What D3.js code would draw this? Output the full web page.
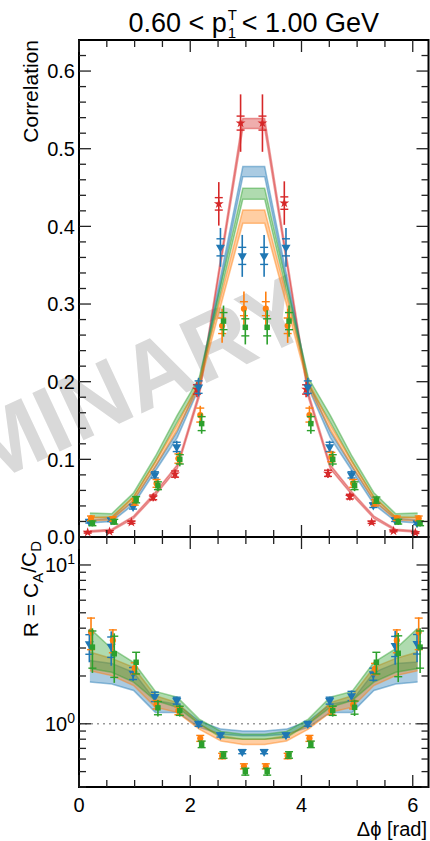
<!DOCTYPE html>
<html>
<head>
<meta charset="utf-8">
<script src="https://cdn.jsdelivr.net/npm/d3@7"></script>
<style>
body{margin:0;background:#fff}
text{font-family:"Liberation Sans",Arial,sans-serif;fill:#000}
</style>
</head>
<body>
<div class="container"></div>
<script>
// bin centres in delta phi
var binCenters = [0.196, 0.589, 0.982, 1.374, 1.767, 2.160, 2.553, 2.945, 3.338, 3.731, 4.123, 4.516, 4.909, 5.301, 5.694, 6.087];

// upper panel: measured correlation
var redVals    = [0.006, 0.007, 0.019, 0.051, 0.081, 0.190, 0.429, 0.533, 0.533, 0.430, 0.190, 0.082, 0.052, 0.019, 0.0077, 0.0055];
var redTot     = [0.002, 0.002, 0.003, 0.005, 0.006, 0.010, 0.028, 0.037, 0.037, 0.028, 0.010, 0.006, 0.005, 0.003, 0.002, 0.002];
var redStat    = [0.001, 0.001, 0.0015, 0.003, 0.004, 0.006, 0.008, 0.009, 0.009, 0.008, 0.006, 0.004, 0.003, 0.0015, 0.001, 0.001];
var blueVals   = [0.020, 0.022, 0.039, 0.080, 0.116, 0.193, 0.373, 0.362, 0.362, 0.373, 0.193, 0.116, 0.080, 0.041, 0.022, 0.018];
var blueTot    = [0.003, 0.003, 0.004, 0.006, 0.008, 0.012, 0.025, 0.027, 0.027, 0.025, 0.012, 0.008, 0.006, 0.004, 0.003, 0.003];
var blueStat   = [0.002, 0.002, 0.003, 0.004, 0.006, 0.008, 0.011, 0.011, 0.011, 0.011, 0.008, 0.006, 0.004, 0.003, 0.002, 0.002];
var orangeVals = [0.024, 0.023, 0.045, 0.069, 0.101, 0.157, 0.272, 0.294, 0.294, 0.272, 0.157, 0.103, 0.069, 0.044, 0.024, 0.024];
var orangeTot  = [0.004, 0.004, 0.005, 0.006, 0.008, 0.012, 0.022, 0.022, 0.022, 0.022, 0.012, 0.008, 0.006, 0.005, 0.004, 0.004];
var orangeStat = [0.003, 0.003, 0.004, 0.005, 0.006, 0.009, 0.010, 0.009, 0.009, 0.010, 0.009, 0.006, 0.005, 0.004, 0.003, 0.003];
var greenVals  = [0.0176, 0.0197, 0.048, 0.066, 0.100, 0.146, 0.278, 0.270, 0.270, 0.278, 0.146, 0.100, 0.066, 0.0475, 0.0197, 0.0176];
var greenTot   = [0.004, 0.004, 0.005, 0.007, 0.009, 0.013, 0.020, 0.022, 0.022, 0.020, 0.013, 0.009, 0.007, 0.005, 0.004, 0.004];
var greenStat  = [0.003, 0.003, 0.004, 0.005, 0.006, 0.009, 0.011, 0.011, 0.011, 0.011, 0.009, 0.006, 0.005, 0.004, 0.003, 0.003];

// upper panel: model bands
var redLo    = [0.0060, 0.0080, 0.024, 0.054, 0.088, 0.180, 0.353, 0.526, 0.526, 0.353, 0.180, 0.088, 0.054, 0.024, 0.0080, 0.0060];
var redHi    = [0.0080, 0.0100, 0.027, 0.058, 0.093, 0.186, 0.362, 0.539, 0.539, 0.362, 0.186, 0.093, 0.058, 0.027, 0.0100, 0.0080];
var blueLo   = [0.018, 0.020, 0.042, 0.085, 0.128, 0.192, 0.328, 0.464, 0.464, 0.328, 0.192, 0.128, 0.085, 0.042, 0.020, 0.018];
var blueHi   = [0.022, 0.024, 0.047, 0.091, 0.136, 0.199, 0.338, 0.477, 0.477, 0.338, 0.199, 0.136, 0.091, 0.047, 0.024, 0.022];
var greenLo  = [0.025, 0.025, 0.051, 0.097, 0.148, 0.196, 0.316, 0.435, 0.435, 0.316, 0.196, 0.148, 0.097, 0.051, 0.025, 0.025];
var greenHi  = [0.031, 0.030, 0.057, 0.104, 0.157, 0.205, 0.327, 0.449, 0.449, 0.327, 0.205, 0.157, 0.104, 0.057, 0.030, 0.031];
var orangeLo = [0.021, 0.022, 0.047, 0.091, 0.138, 0.193, 0.299, 0.404, 0.404, 0.299, 0.193, 0.138, 0.091, 0.047, 0.022, 0.021];
var orangeHi = [0.025, 0.026, 0.052, 0.097, 0.145, 0.200, 0.311, 0.421, 0.421, 0.311, 0.200, 0.145, 0.097, 0.052, 0.026, 0.025];

// lower panel: ratio R = CA/CD
var blueR       = [3.19, 3.07, 2.08, 1.48, 1.40, 1.00, 0.85, 0.668, 0.668, 0.85, 1.00, 1.40, 1.50, 2.06, 3.10, 3.20];
var blueRTot    = [0.75, 0.75, 0.22, 0.12, 0.08, 0.04, 0.03, 0.02, 0.02, 0.03, 0.04, 0.08, 0.12, 0.22, 0.75, 0.75];
var blueRStat   = [0.45, 0.45, 0.18, 0.10, 0.07, 0.035, 0.025, 0.02, 0.02, 0.025, 0.035, 0.07, 0.10, 0.18, 0.45, 0.45];
var orangeR     = [3.78, 3.35, 2.24, 1.32, 1.21, 0.81, 0.627, 0.54, 0.54, 0.627, 0.81, 1.21, 1.32, 2.22, 3.35, 3.78];
var orangeRTot  = [0.90, 0.60, 0.20, 0.10, 0.08, 0.04, 0.03, 0.025, 0.025, 0.03, 0.04, 0.08, 0.10, 0.20, 0.60, 0.90];
var orangeRStat = [0.85, 0.55, 0.18, 0.08, 0.07, 0.035, 0.025, 0.02, 0.02, 0.025, 0.035, 0.07, 0.08, 0.18, 0.55, 0.85];
var greenR      = [3.04, 2.76, 2.44, 1.26, 1.21, 0.743, 0.637, 0.50, 0.50, 0.637, 0.743, 1.21, 1.27, 2.44, 2.78, 3.04];
var greenRTot   = [0.95, 0.95, 0.38, 0.15, 0.10, 0.04, 0.035, 0.03, 0.03, 0.035, 0.04, 0.10, 0.15, 0.38, 0.95, 0.95];
var greenRStat  = [0.80, 0.80, 0.38, 0.12, 0.08, 0.035, 0.03, 0.025, 0.025, 0.03, 0.035, 0.08, 0.12, 0.38, 0.80, 0.80];

var blueRLo   = [1.83, 1.78, 1.62, 1.18, 1.18, 0.95, 0.86, 0.84, 0.84, 0.86, 0.95, 1.18, 1.18, 1.62, 1.78, 1.83];
var blueRHi   = [2.50, 2.40, 2.11, 1.40, 1.33, 1.04, 0.926, 0.90, 0.90, 0.926, 1.04, 1.33, 1.40, 2.11, 2.40, 2.45];
var orangeRLo = [2.16, 2.01, 1.74, 1.27, 1.18, 0.925, 0.78, 0.74, 0.74, 0.78, 0.925, 1.18, 1.27, 1.74, 2.01, 2.16];
var orangeRHi = [2.83, 2.58, 2.27, 1.50, 1.36, 1.00, 0.84, 0.80, 0.80, 0.84, 1.00, 1.36, 1.50, 2.27, 2.58, 2.83];
var greenRLo  = [2.23, 2.11, 1.83, 1.40, 1.27, 1.00, 0.819, 0.80, 0.80, 0.819, 1.00, 1.27, 1.40, 1.83, 2.11, 2.23];
var greenRHi  = [3.99, 2.97, 2.44, 1.60, 1.47, 1.07, 0.894, 0.86, 0.86, 0.894, 1.07, 1.47, 1.60, 2.44, 2.97, 3.99];

// ticks
var xMajor = [0, 2, 4, 6];
var xMinor = [0.5, 1, 1.5, 2.5, 3, 3.5, 4.5, 5, 5.5];
var yTopMajor = [0, 0.1, 0.2, 0.3, 0.4, 0.5, 0.6];
var yTopMinor = [0.02, 0.04, 0.06, 0.08, 0.12, 0.14, 0.16, 0.18, 0.22, 0.24, 0.26, 0.28, 0.32, 0.34, 0.36, 0.38, 0.42, 0.44, 0.46, 0.48, 0.52, 0.54, 0.56, 0.58, 0.62];
var yBotMajor = [1, 10];
var yBotMinor = [0.4, 0.5, 0.6, 0.7, 0.8, 0.9, 2, 3, 4, 5, 6, 7, 8, 9];

var RED = '#d62728', BLUE = '#1f77b4', ORANGE = '#ff7f0e', GREEN = '#2ca02c';

var svg = d3.select('.container').append('svg').attr('width', 430).attr('height', 841);

const LEFT = 79, RIGHT = 428.5, TOP = 40, MID = 537, BOTTOM = 787;
const MAJOR = 12, MINOR = 7;

var x = d3.scaleLinear().domain([0, 2 * Math.PI]).range([LEFT, RIGHT]);
var yTop = d3.scaleLinear().domain([0, 0.64]).range([MID, TOP]);
var yBot = d3.scaleLog().domain([0.4, 15]).range([BOTTOM, MID]);

// watermark
svg.append('text')
  .text('PRELIMINARY')
  .attr('transform', 'translate(316,332) rotate(-25)')
  .attr('text-anchor', 'end')
  .style('font-size', '94px')
  .style('font-weight', 'bold')
  .style('fill', '#d9d9d9');

var drawBand = function(g, yScale, lo, hi, color) {
  var area = d3.area()
    .x(function(d, i) { return x(binCenters[i]); })
    .y0(function(d, i) { return yScale(lo[i]); })
    .y1(function(d, i) { return yScale(hi[i]); });
  g.append('path').datum(lo).attr('d', area)
    .attr('fill', color).attr('fill-opacity', 0.38);
  var line = d3.line()
    .x(function(d, i) { return x(binCenters[i]); })
    .y(function(d) { return yScale(d); });
  [lo, hi].forEach(function(arr) {
    g.append('path').datum(arr).attr('d', line)
      .attr('fill', 'none').attr('stroke', color)
      .attr('stroke-opacity', 0.45).attr('stroke-width', 1.5);
  });
};

var drawPoints = function(g, yScale, vals, tot, stat, color, sym, size, rot, dx) {
  var floor = yScale.domain()[0];
  vals.forEach(function(v, i) {
    var px = x(binCenters[i] + dx);
    g.append('line')
      .attr('x1', px).attr('x2', px)
      .attr('y1', yScale(Math.max(v - tot[i], floor))).attr('y2', yScale(v + tot[i]))
      .attr('stroke', color).attr('stroke-width', 1.6);
    [v - stat[i], v + stat[i]].forEach(function(c) {
      g.append('line')
        .attr('x1', px - 4).attr('x2', px + 4)
        .attr('y1', yScale(Math.max(c, floor))).attr('y2', yScale(Math.max(c, floor)))
        .attr('stroke', color).attr('stroke-width', 1.4);
    });
    g.append('path')
      .attr('d', d3.symbol().type(sym).size(size)())
      .attr('transform', 'translate(' + px + ',' + yScale(v) + ') rotate(' + rot + ')')
      .attr('fill', color);
  });
};

// upper panel
var topG = svg.append('g');
drawBand(topG, yTop, redLo, redHi, RED);
drawBand(topG, yTop, blueLo, blueHi, BLUE);
drawBand(topG, yTop, greenLo, greenHi, GREEN);
drawBand(topG, yTop, orangeLo, orangeHi, ORANGE);
drawPoints(topG, yTop, redVals, redTot, redStat, RED, d3.symbolStar, 30, 0, -0.04);
drawPoints(topG, yTop, blueVals, blueTot, blueStat, BLUE, d3.symbolTriangle, 36, 180, -0.01);
drawPoints(topG, yTop, orangeVals, orangeTot, orangeStat, ORANGE, d3.symbolCircle, 30, 0, 0.02);
drawPoints(topG, yTop, greenVals, greenTot, greenStat, GREEN, d3.symbolSquare, 30, 0, 0.045);

// lower panel
var botG = svg.append('g');
botG.append('line')
  .attr('x1', LEFT).attr('x2', RIGHT).attr('y1', yBot(1)).attr('y2', yBot(1))
  .attr('stroke', '#999').attr('stroke-width', 1.5).attr('stroke-dasharray', '2,4');
drawBand(botG, yBot, blueRLo, blueRHi, BLUE);
drawBand(botG, yBot, orangeRLo, orangeRHi, ORANGE);
drawBand(botG, yBot, greenRLo, greenRHi, GREEN);
drawPoints(botG, yBot, blueR, blueRTot, blueRStat, BLUE, d3.symbolTriangle, 36, 180, -0.01);
drawPoints(botG, yBot, orangeR, orangeRTot, orangeRStat, ORANGE, d3.symbolCircle, 30, 0, 0.02);
drawPoints(botG, yBot, greenR, greenRTot, greenRStat, GREEN, d3.symbolSquare, 30, 0, 0.045);

// frames
var axes = svg.append('g');
[[TOP, MID], [MID, BOTTOM]].forEach(function(p) {
  axes.append('rect')
    .attr('x', LEFT).attr('y', p[0]).attr('width', RIGHT - LEFT).attr('height', p[1] - p[0])
    .attr('fill', 'none').attr('stroke', '#000').attr('stroke-width', 2);
});

var tick = function(x1, y1, x2, y2) {
  axes.append('line')
    .attr('x1', x1).attr('y1', y1).attr('x2', x2).attr('y2', y2)
    .attr('stroke', '#222').attr('stroke-width', 1.3);
};

// x ticks on each horizontal edge, pointing inward
[[TOP, 1], [MID, -1], [MID, 1], [BOTTOM, -1]].forEach(function(e) {
  xMajor.forEach(function(t) { tick(x(t), e[0], x(t), e[0] + e[1] * MAJOR); });
  xMinor.forEach(function(t) { tick(x(t), e[0], x(t), e[0] + e[1] * MINOR); });
});
// y ticks
[[LEFT, 1], [RIGHT, -1]].forEach(function(e) {
  yTopMajor.forEach(function(t) { tick(e[0], yTop(t), e[0] + e[1] * MAJOR, yTop(t)); });
  yTopMinor.forEach(function(t) { tick(e[0], yTop(t), e[0] + e[1] * MINOR, yTop(t)); });
  yBotMajor.forEach(function(t) { tick(e[0], yBot(t), e[0] + e[1] * MAJOR, yBot(t)); });
  yBotMinor.forEach(function(t) { tick(e[0], yBot(t), e[0] + e[1] * MINOR, yBot(t)); });
});

// tick labels
yTopMajor.forEach(function(t) {
  axes.append('text').text(t.toFixed(1))
    .attr('x', 75).attr('y', yTop(t)).attr('dy', '0.36em')
    .attr('text-anchor', 'end').style('font-size', '20px');
});
yBotMajor.forEach(function(t) {
  var lab = axes.append('text')
    .attr('x', 75).attr('y', yBot(t)).attr('dy', '0.36em')
    .attr('text-anchor', 'end').style('font-size', '20px');
  lab.append('tspan').text('10');
  lab.append('tspan').text(Math.round(Math.log10(t))).attr('dy', '-0.55em').style('font-size', '14px');
});
xMajor.forEach(function(t) {
  axes.append('text').text(t)
    .attr('x', x(t)).attr('y', 812)
    .attr('text-anchor', 'middle').style('font-size', '20px');
});

// axis titles
axes.append('text').text('\u0394\u03d5 [rad]')
  .attr('x', 427).attr('y', 836).attr('text-anchor', 'end').style('font-size', '20px');

axes.append('text').text('Correlation')
  .attr('transform', 'translate(38,' + TOP + ') rotate(-90)')
  .attr('text-anchor', 'end').style('font-size', '21px');

var rLab = axes.append('text')
  .attr('transform', 'translate(38,' + (MID + 4) + ') rotate(-90)')
  .attr('text-anchor', 'end').style('font-size', '21px');
rLab.append('tspan').text('R = C');
rLab.append('tspan').text('A').attr('dy', '0.3em').style('font-size', '15px');
rLab.append('tspan').text('/C').attr('dy', '-0.3em');
rLab.append('tspan').text('D').attr('dy', '0.3em').style('font-size', '15px');

// title with stacked super/subscript
var title = svg.append('g');
var t1 = title.append('text').text('0.60 < p').attr('x', 0).attr('y', 32).style('font-size', '27px');
var w1 = t1.node().getComputedTextLength();
title.append('text').text('T').attr('x', w1 + 1).attr('y', 20).style('font-size', '15px').style('fill', '#000');
title.append('text').text('1').attr('x', w1 + 1).attr('y', 38).style('font-size', '15px').style('fill', '#000');
var t2 = title.append('text').text('< 1.00 GeV').attr('x', w1 + 15).attr('y', 32).style('font-size', '27px');
var total = w1 + 15 + t2.node().getComputedTextLength();
title.attr('transform', 'translate(' + ((LEFT + RIGHT) / 2 - total / 2) + ',0)');
</script>
</body>
</html>
